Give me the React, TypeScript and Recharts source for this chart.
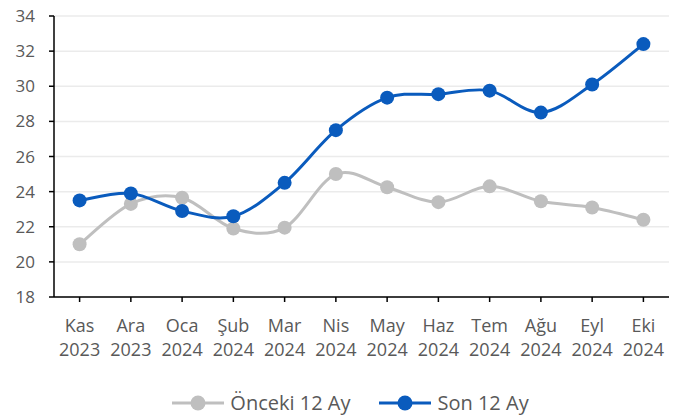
import React from 'react'
import { LineChart, Line, XAxis, YAxis, CartesianGrid, Legend } from 'recharts'

const months = ['Kas', 'Ara', 'Oca', 'Şub', 'Mar', 'Nis', 'May', 'Haz', 'Tem', 'Ağu', 'Eyl', 'Eki']
const years = ['2023', '2023', '2024', '2024', '2024', '2024', '2024', '2024', '2024', '2024', '2024', '2024']
const onceki = [21.0, 23.3, 23.65, 21.9, 21.95, 25.0, 24.25, 23.4, 24.3, 23.45, 23.1, 22.4]
const son = [23.5, 23.9, 22.9, 22.6, 24.5, 27.5, 29.35, 29.55, 29.75, 28.5, 30.1, 32.4]
const yTicks = [18, 20, 22, 24, 26, 28, 30, 32, 34]

const BLUE = '#0A5BBD'
const GREY = '#BFBFBF'
const TEXT = '#595959'
const FONT = '"Open Sans", sans-serif'

const data = months.map((m, i) => ({ month: m, year: years[i], onceki: onceki[i], son: son[i] }))

// excel-style smoothing: cardinal bezier through every point
function excelCurve(context: any) {
  let pts: number[][] = []
  return {
    areaStart() {},
    areaEnd() {},
    lineStart() { pts = [] },
    point(x: number, y: number) { pts.push([+x, +y]) },
    lineEnd() {
      if (!pts.length) return
      context.moveTo(pts[0][0], pts[0][1])
      for (let i = 0; i < pts.length - 1; i++) {
        const p0 = pts[i - 1] || pts[i]
        const p1 = pts[i]
        const p2 = pts[i + 1]
        const p3 = pts[i + 2] || p2
        context.bezierCurveTo(
          p1[0] + (p2[0] - p0[0]) / 6, p1[1] + (p2[1] - p0[1]) / 6,
          p2[0] - (p3[0] - p1[0]) / 6, p2[1] - (p3[1] - p1[1]) / 6,
          p2[0], p2[1],
        )
      }
    },
  }
}

function MonthTick({ x, y, payload, index }: any) {
  return (
    <g transform={`translate(${x},${y})`}>
      <text textAnchor="middle" fill={TEXT} fontSize={18} fontFamily={FONT}>
        <tspan x={0} dy={28}>{payload.value}</tspan>
        <tspan x={0} dy={24}>{years[index]}</tspan>
      </text>
    </g>
  )
}

function LegendContent() {
  const items = [
    { label: 'Önceki 12 Ay', color: GREY },
    { label: 'Son 12 Ay', color: BLUE },
  ]
  return (
    <div style={{ display: 'flex', justifyContent: 'center', gap: 28, paddingLeft: 21, fontFamily: FONT, fontSize: 20, color: TEXT, lineHeight: '24px' }}>
      {items.map((it) => (
        <div key={it.label} style={{ display: 'flex', alignItems: 'center' }}>
          <svg width={54} height={18} style={{ marginRight: 5 }}>
            <line x1={1} y1={9} x2={53} y2={9} stroke={it.color} strokeWidth={3} />
            <circle cx={27} cy={9} r={7.5} fill={it.color} />
          </svg>
          <span>{it.label}</span>
        </div>
      ))}
    </div>
  )
}

export default function App() {
  return (
    <div style={{ position: 'absolute', left: 0, top: 0, background: '#fff' }}>
      <LineChart width={679} height={416} data={data} margin={{ top: 16, right: 10, bottom: 49, left: 0 }}>
        <CartesianGrid vertical={false} stroke="#EBEBEB" strokeWidth={1.5} />
        <XAxis
          dataKey="month"
          interval={0}
          padding={{ left: 25.6, right: 25.6 }}
          height={70}
          axisLine={{ stroke: '#000', strokeWidth: 1.5 }}
          tickLine={{ stroke: '#000', strokeWidth: 1.5 }}
          tickSize={5}
          tick={<MonthTick />}
        />
        <YAxis
          domain={[18, 34]}
          ticks={yTicks}
          width={54}
          interval={0}
          axisLine={{ stroke: '#000', strokeWidth: 1.5 }}
          tickLine={{ stroke: '#000', strokeWidth: 1.5 }}
          tickSize={5}
          tickMargin={14}
          tick={{ fill: TEXT, fontSize: 17, fontFamily: FONT }}
        />
        <Legend
          verticalAlign="middle"
          align="center"
          wrapperStyle={{ top: 391, left: 0, width: 679 }}
          content={<LegendContent />}
        />
        <Line
          dataKey="onceki"
          name="Önceki 12 Ay"
          type={excelCurve as any}
          stroke={GREY}
          strokeWidth={3}
          dot={{ r: 7, fill: GREY, stroke: GREY, strokeWidth: 0 }}
          activeDot={false}
          isAnimationActive={false}
        />
        <Line
          dataKey="son"
          name="Son 12 Ay"
          type={excelCurve as any}
          stroke={BLUE}
          strokeWidth={3}
          dot={{ r: 7, fill: BLUE, stroke: BLUE, strokeWidth: 0 }}
          activeDot={false}
          isAnimationActive={false}
        />
      </LineChart>
    </div>
  )
}
